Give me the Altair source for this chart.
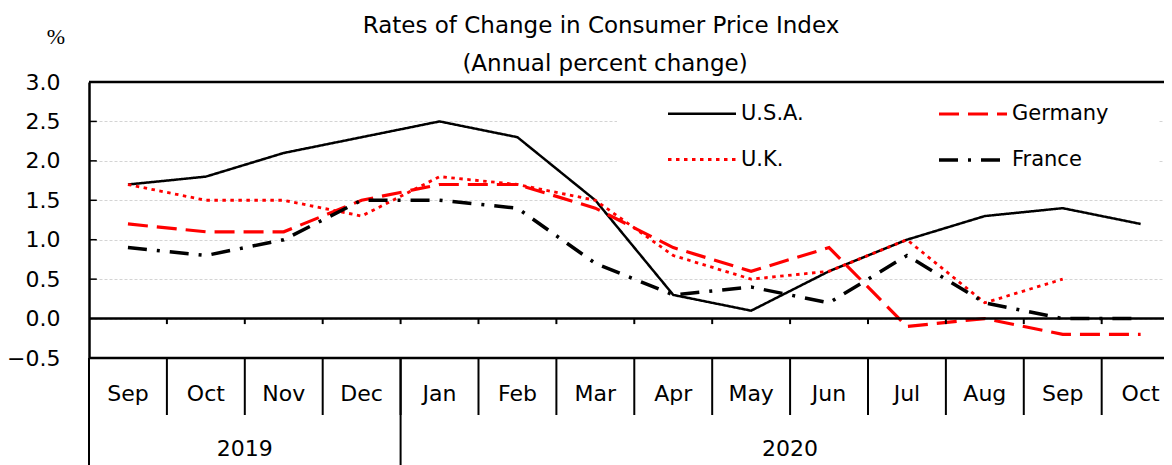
import altair as alt
import pandas as pd

# ---- data ----
months = ["Sep", "Oct", "Nov", "Dec", "Jan", "Feb", "Mar", "Apr", "May", "Jun", "Jul", "Aug", "Sep", "Oct"]
years = ["2019", "2020"]
year_centers = [1.5, 8.5]
year_breaks = [-0.5, 3.5]

usa = [1.7, 1.8, 2.1, 2.3, 2.5, 2.3, 1.5, 0.3, 0.1, 0.6, 1.0, 1.3, 1.4, 1.2]
uk = [1.7, 1.5, 1.5, 1.3, 1.8, 1.7, 1.5, 0.8, 0.5, 0.6, 1.0, 0.2, 0.5, None]
germany = [1.2, 1.1, 1.1, 1.5, 1.7, 1.7, 1.4, 0.9, 0.6, 0.9, -0.1, 0.0, -0.2, -0.2]
france = [0.9, 0.8, 1.0, 1.5, 1.5, 1.4, 0.7, 0.3, 0.4, 0.2, 0.8, 0.2, 0.0, 0.0]

# legend fills column by column: (U.S.A., U.K.) then (Germany, France)
names = ["U.S.A.", "U.K.", "Germany", "France"]
colors = ["#000000", "#ff0000", "#ff0000", "#000000"]
dashes = [[1, 0], [3.5, 4.5], [20, 9], [19, 10, 3, 10]]
widths = [2.5, 3.5, 2.5, 2.5]

y_ticks = [-0.5, 0.0, 0.5, 1.0, 1.5, 2.0, 2.5, 3.0]
frame_lines = [3.0, 0.0, -0.5]
inner_ticks = [0.5, 1.0, 1.5, 2.0, 2.5]

TITLE = "Rates of Change in Consumer Price Index"
SUBTITLE = "(Annual percent change)"
UNIT = "%"

W, H = 1075, 276
X_MAX = 13.3
FONT = "DejaVu Sans"

rows = []
for name, series in zip(names, [usa, uk, germany, france]):
    for i, v in enumerate(series):
        if v is not None:
            rows.append({"idx": i, "country": name, "value": v})
df = pd.DataFrame(rows)

xs = alt.Scale(domain=[-0.5, X_MAX], nice=False, zero=False)
ys = alt.Scale(domain=[-0.5, 3.0], nice=False, zero=False)

legend = alt.Legend(
    title=None, orient="none", legendX=577, legendY=-4, columns=2,
    columnPadding=128, rowPadding=0, symbolType="stroke", symbolSize=4624,
    labelFontSize=21, labelOffset=3, labelColor="#000000", labelFont=FONT,
)

# white box behind the legend (hides gridlines there)
legend_box = alt.Chart(pd.DataFrame({"a": [0]})).mark_rect(color="white").encode(
    x=alt.value(528), x2=alt.value(1069), y=alt.value(3), y2=alt.value(98)
)

lines = alt.Chart(df).mark_line(clip=False).encode(
    x=alt.X("idx:Q", scale=xs, axis=None),
    y=alt.Y("value:Q", scale=ys, axis=alt.Axis(
        values=y_ticks, tickCount=len(y_ticks), format=".1f", labelFontSize=22,
        labelColor="#000000", labelFont=FONT, labelPadding=29, labelOverlap=False,
        tickSize=0, domainColor="#000000", domainWidth=2.5, gridColor="#d4d4d4",
        gridWidth=1, gridDash=[3, 2], title=None,
    )),
    color=alt.Color("country:N", scale=alt.Scale(domain=names, range=colors), legend=legend),
    strokeDash=alt.StrokeDash("country:N", scale=alt.Scale(domain=names, range=dashes), legend=legend),
    strokeWidth=alt.StrokeWidth("country:N", scale=alt.Scale(domain=names, range=widths), legend=legend),
)

frame = alt.Chart(pd.DataFrame({"y": frame_lines})).mark_rule(color="black", strokeWidth=2.5).encode(
    y=alt.Y("y:Q", scale=ys), x=alt.datum(-0.5), x2=alt.datum(X_MAX)
)

yticks_in = alt.Chart(pd.DataFrame({"y": inner_ticks})).mark_rule(color="black", strokeWidth=1.5).encode(
    y=alt.Y("y:Q", scale=ys), x=alt.datum(-0.5), x2=alt.datum(-0.4)
)

bounds = pd.DataFrame({"b": [k + 0.5 for k in range(len(months) - 1)]})
month_seps = alt.Chart(bounds).mark_rule(color="black", strokeWidth=2).encode(
    x=alt.X("b:Q", scale=xs), y=alt.value(H), y2=alt.value(H + 57)
)
zero_ticks = alt.Chart(bounds).mark_rule(color="black", strokeWidth=2).encode(
    x=alt.X("b:Q", scale=xs), y=alt.datum(0.0), y2=alt.datum(-0.07)
)
year_seps = alt.Chart(pd.DataFrame({"b": year_breaks})).mark_rule(color="black", strokeWidth=2).encode(
    x=alt.X("b:Q", scale=xs), y=alt.value(H), y2=alt.value(H + 112)
)

month_labels = alt.Chart(pd.DataFrame({"idx": list(range(len(months))), "m": months})).mark_text(
    fontSize=22, font=FONT, color="black", baseline="middle"
).encode(x=alt.X("idx:Q", scale=xs), y=alt.value(H + 36), text="m:N")

year_labels = alt.Chart(pd.DataFrame({"c": year_centers, "t": years})).mark_text(
    fontSize=22, font=FONT, color="black", baseline="middle"
).encode(x=alt.X("c:Q", scale=xs), y=alt.value(H + 91), text="t:N")

title = alt.Chart(pd.DataFrame({"t": [TITLE]})).mark_text(
    fontSize=23, font=FONT, color="black", baseline="middle"
).encode(x=alt.value(512), y=alt.value(-56), text="t:N")
subtitle = alt.Chart(pd.DataFrame({"t": [SUBTITLE]})).mark_text(
    fontSize=23, font=FONT, color="black", baseline="middle"
).encode(x=alt.value(516), y=alt.value(-18), text="t:N")
unit = alt.Chart(pd.DataFrame({"t": [UNIT]})).mark_text(
    fontSize=22, font="Liberation Serif", color="black", baseline="middle"
).encode(x=alt.value(-33), y=alt.value(-45), text="t:N")

chart = alt.layer(
    legend_box, lines, frame, yticks_in, month_seps, zero_ticks, year_seps,
    month_labels, year_labels, title, subtitle, unit,
).properties(
    width=W, height=H,
    padding={"left": 81, "top": 74, "right": 0, "bottom": 107},
    autosize=alt.AutoSizeParams(type="none"),
).configure_view(stroke=None).configure(font=FONT)

chart.save("out.html", embed_options={"renderer": "svg", "actions": False})
